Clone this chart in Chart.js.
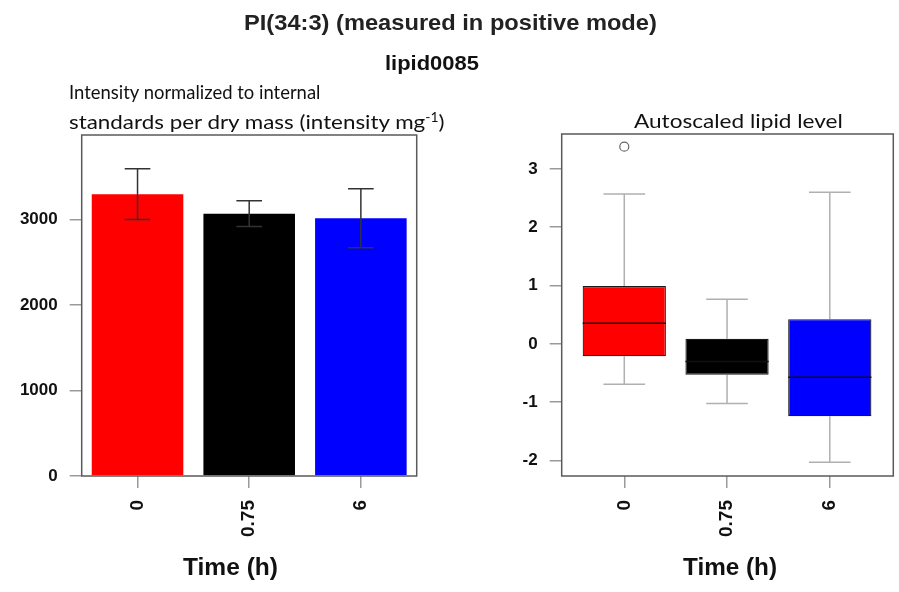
<!DOCTYPE html>
<html><head><meta charset="utf-8">
<script src="https://cdn.jsdelivr.net/npm/chart.js@4"></script>
<style>
html,body{margin:0;padding:0;background:#fff;}
body{width:899px;height:592px;position:relative;overflow:hidden;}
canvas{position:absolute;top:0;}
.t{position:absolute;white-space:nowrap;line-height:1;transform-origin:0 50%;}
</style></head><body>
<canvas id="left" width="470" height="592" style="left:0"></canvas>
<canvas id="right" width="429" height="592" style="left:470px"></canvas>
<script>
// ---- data ----
const timeLabels = ['0', '0.75', '6'];
const groupColors = ['#ff0000', '#000000', '#0000ff'];
// left: mean intensity and error (intensity mg^-1)
const barMeans = [3298, 3070, 3015];
const barSD = [298, 152, 345];
const leftYTicks = [0, 1000, 2000, 3000];
// right: autoscaled lipid level box plots
const boxMin = [-0.69, -1.02, -2.03];
const boxQ1 = [-0.21, -0.53, -1.24];
const boxMedian = [0.355, -0.30, -0.57];
const boxQ3 = [0.99, 0.086, 0.424];
const boxMax = [2.57, 0.767, 2.60];
const outlierGroup = [0];
const outlierValue = [3.38];
const rightYTicks = [-2, -1, 0, 1, 2, 3];

Chart.defaults.font.family = "'Liberation Sans', Arial, sans-serif";
Chart.defaults.color = '#111';

// ---- text outside the plots ----
function addText(html, o) {
  const d = document.createElement('div');
  d.className = 't';
  d.innerHTML = html;
  d.style.font = o.font;
  d.style.color = o.color || '#111';
  document.body.appendChild(d);
  const w0 = d.offsetWidth, h0 = d.offsetHeight;
  const left = o.align === 'left' ? o.x : o.x - o.width / 2;
  d.style.left = left + 'px';
  d.style.top = (o.y - h0 / 2) + 'px';
  d.style.transform = 'scaleX(' + (o.width / w0) + ')';
}
const sup = '<span style="font-size:0.62em;position:relative;top:-0.6em">-1</span>';
addText('PI(34:3) (measured in positive mode)', {x: 450, y: 23, width: 413, font: "bold 22px 'Liberation Sans'", color: '#222'});
addText('lipid0085', {x: 432, y: 63, width: 94, font: "bold 21px 'Liberation Sans'"});
addText('Intensity normalized to internal', {x: 69, y: 91, width: 251, align: 'left', font: "20px Lato"});
addText('standards per dry mass (intensity mg' + sup + ')', {x: 69, y: 121, width: 376, align: 'left', font: "20px Lato"});
addText('Autoscaled lipid level', {x: 738.5, y: 120, width: 209, font: "20px Lato"});
addText('Time (h)', {x: 230.5, y: 567, width: 95, font: "bold 23px 'Liberation Sans'"});
addText('Time (h)', {x: 730, y: 567, width: 94, font: "bold 23px 'Liberation Sans'"});

// ---- plugins ----
const frameColor = '#5a5a5a';
function drawFrame(chart) {
  const {ctx, chartArea: a} = chart;
  ctx.save();
  ctx.strokeStyle = frameColor;
  ctx.lineWidth = 1.5;
  ctx.strokeRect(a.left, a.top, a.right - a.left, a.bottom - a.top);
  ctx.restore();
}
const errorBarPlugin = {
  id: 'errorBars',
  afterDatasetsDraw(chart) {
    const {ctx} = chart;
    const y = chart.scales.y;
    const meta = chart.getDatasetMeta(0);
    ctx.save();
    ctx.strokeStyle = '#333333';
    ctx.lineWidth = 1.5;
    meta.data.forEach((bar, i) => {
      const x = bar.x, cap = bar.width * 0.14;
      const yHi = y.getPixelForValue(barMeans[i] + barSD[i]);
      const yLo = y.getPixelForValue(barMeans[i] - barSD[i]);
      ctx.beginPath();
      ctx.moveTo(x, yHi); ctx.lineTo(x, yLo);
      ctx.moveTo(x - cap, yHi); ctx.lineTo(x + cap, yHi);
      ctx.moveTo(x - cap, yLo); ctx.lineTo(x + cap, yLo);
      ctx.stroke();
    });
    ctx.restore();
    drawFrame(chart);
  }
};
const boxPlugin = {
  id: 'boxWhiskers',
  beforeDatasetsDraw(chart) {
    const {ctx} = chart;
    const y = chart.scales.y;
    const meta = chart.getDatasetMeta(0);
    ctx.save();
    ctx.strokeStyle = '#b0b0b0';
    ctx.lineWidth = 1.5;
    meta.data.forEach((bar, i) => {
      const x = bar.x, cap = bar.width * 0.25;
      const yMax = y.getPixelForValue(boxMax[i]), yQ3 = y.getPixelForValue(boxQ3[i]);
      const yMin = y.getPixelForValue(boxMin[i]), yQ1 = y.getPixelForValue(boxQ1[i]);
      ctx.beginPath();
      ctx.moveTo(x, yQ3); ctx.lineTo(x, yMax);
      ctx.moveTo(x - cap, yMax); ctx.lineTo(x + cap, yMax);
      ctx.moveTo(x, yQ1); ctx.lineTo(x, yMin);
      ctx.moveTo(x - cap, yMin); ctx.lineTo(x + cap, yMin);
      ctx.stroke();
    });
    ctx.restore();
  },
  afterDatasetsDraw(chart) {
    const {ctx} = chart;
    const y = chart.scales.y;
    const meta = chart.getDatasetMeta(0);
    ctx.save();
    ctx.strokeStyle = '#111111';
    ctx.lineWidth = 1.5;
    meta.data.forEach((bar, i) => {
      const ym = y.getPixelForValue(boxMedian[i]);
      ctx.beginPath();
      ctx.moveTo(bar.x - bar.width / 2, ym); ctx.lineTo(bar.x + bar.width / 2, ym);
      ctx.stroke();
    });
    ctx.restore();
    drawFrame(chart);
  }
};

const tickGrid = {offset: false, drawOnChartArea: false, drawTicks: true, tickLength: 12, color: '#9a9a9a', lineWidth: 1.5};

// ---- left: bar chart with error bars ----
new Chart(document.getElementById('left'), {
  type: 'bar',
  data: {
    labels: timeLabels,
    datasets: [{
      data: barMeans,
      backgroundColor: groupColors,
      borderWidth: 0,
      categoryPercentage: 1,
      barPercentage: 0.82
    }]
  },
  options: {
    responsive: false,
    animation: false,
    layout: {padding: {top: 135, right: 53.3, bottom: 0, left: 0}},
    plugins: {legend: {display: false}, tooltip: {enabled: false}},
    scales: {
      x: {
        grid: tickGrid,
        border: {display: false},
        ticks: {minRotation: 90, maxRotation: 90, padding: 12, color: '#111', font: {size: 19, weight: 'bold'}},
        afterFit: s => { s.height = 116; }
      },
      y: {
        min: 0, max: 3990,
        afterBuildTicks: s => { s.ticks = leftYTicks.map(v => ({value: v})); },
        grid: tickGrid,
        border: {display: false},
        ticks: {padding: 12, color: '#111', font: {size: 17, weight: 'bold'}, callback: v => String(v)},
        afterFit: s => { s.width = 81.7; }
      }
    }
  },
  plugins: [errorBarPlugin]
});

// ---- right: box plots ----
new Chart(document.getElementById('right'), {
  type: 'bar',
  data: {
    datasets: [{
      type: 'bar',
      data: timeLabels.map((_, i) => ({x: i + 1, y: [boxQ1[i], boxQ3[i]]})),
      backgroundColor: groupColors,
      borderColor: '#1a1a1a',
      borderWidth: 1.2,
      borderSkipped: false,
      categoryPercentage: 1,
      barPercentage: 0.81
    }, {
      type: 'scatter',
      data: outlierGroup.map((g, k) => ({x: g + 1, y: outlierValue[k]})),
      pointStyle: 'circle',
      pointRadius: 4.5,
      borderColor: '#666',
      backgroundColor: 'rgba(0,0,0,0)',
      borderWidth: 1.2
    }]
  },
  options: {
    responsive: false,
    animation: false,
    layout: {padding: {top: 134, right: 3, bottom: 0, left: 0}},
    plugins: {legend: {display: false}, tooltip: {enabled: false}},
    scales: {
      x: {
        type: 'linear',
        offset: false,
        min: 0.391, max: 3.618,
        afterBuildTicks: s => { s.ticks = timeLabels.map((_, i) => ({value: i + 1})); },
        grid: tickGrid,
        border: {display: false},
        ticks: {minRotation: 90, maxRotation: 90, padding: 12, color: '#111', font: {size: 19, weight: 'bold'},
                callback: v => timeLabels[v - 1]},
        afterFit: s => { s.height = 116; }
      },
      y: {
        min: -2.264, max: 3.597,
        afterBuildTicks: s => { s.ticks = rightYTicks.map(v => ({value: v})); },
        grid: tickGrid,
        border: {display: false},
        ticks: {padding: 12, color: '#111', font: {size: 17, weight: 'bold'}, callback: v => String(v)},
        afterFit: s => { s.width = 91.7; }
      }
    }
  },
  plugins: [boxPlugin]
});
</script>
</body></html>
